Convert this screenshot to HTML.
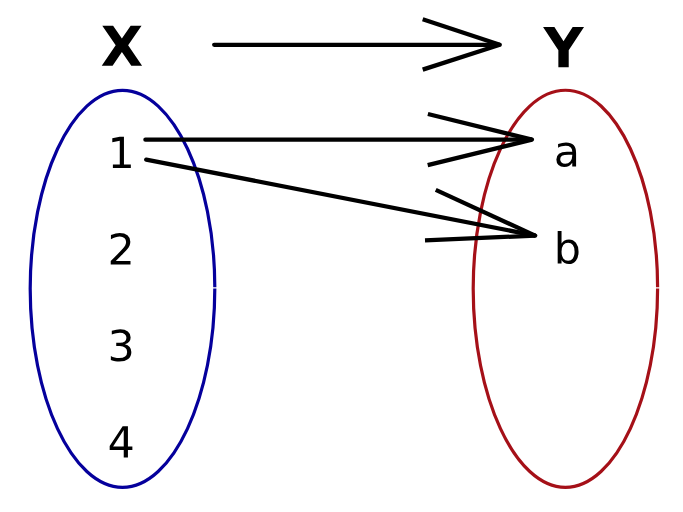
<!DOCTYPE html>
<html><head><meta charset="utf-8"><title>Function diagram</title>
<style>html,body{margin:0;padding:0;background:#fff;width:683px;height:512px;overflow:hidden;font-family:"Liberation Sans",sans-serif}svg{display:block}</style>
</head><body>
<svg width="683" height="512" viewBox="0 0 683 512">
<rect width="683" height="512" fill="#fff"/>
<path d="M214.80 288.40C214.80 396.98 172.80 487.30 122.50 487.30C72.20 487.30 30.20 396.98 30.20 288.80C30.20 180.62 72.20 90.30 122.50 90.30C172.80 90.30 214.80 180.62 214.80 287.20" fill="none" stroke="#05009c" stroke-width="3.2"/>
<path d="M657.60 288.40C657.60 397.01 615.65 487.35 565.40 487.35C515.15 487.35 473.20 397.01 473.20 288.80C473.20 180.59 515.15 90.25 565.40 90.25C615.65 90.25 657.60 180.59 657.60 287.20" fill="none" stroke="#a51018" stroke-width="3.2"/>
<g fill="none" stroke="#000" stroke-width="4.3" stroke-linejoin="bevel">
<path d="M214.2 44.8L499.8 44.8" stroke-linecap="round"/>
<path d="M422.7 19.2L499.8 44.8" stroke-linecap="butt"/>
<path d="M422.7 69.6L499.8 44.8" stroke-linecap="butt"/>
<path d="M145.4 139.7L532.0 139.6" stroke-linecap="round"/>
<path d="M427.9 114.0L532.0 139.6" stroke-linecap="butt"/>
<path d="M427.7 165.2L532.0 139.6" stroke-linecap="butt"/>
<path d="M146.2 159.6L535.2 235.6" stroke-linecap="round"/>
<path d="M435.75 189.9L535.2 235.6" stroke-linecap="butt"/>
<path d="M425.0 240.4L535.2 235.6" stroke-linecap="butt"/>
</g>
<g fill="#000">
<path transform="translate(107.60 168.00) scale(0.02085)" d="M254 -170H584V-1309L225 -1237V-1421L582 -1493H784V-170H1114V0H254Z"/>
<path transform="translate(107.60 264.60) scale(0.02085)" d="M393 -170H1098V0H150V-170Q265 -289 463.5 -489.5Q662 -690 713 -748Q810 -857 848.5 -932.5Q887 -1008 887 -1081Q887 -1200 803.5 -1275.0Q720 -1350 586 -1350Q491 -1350 385.5 -1317.0Q280 -1284 160 -1217V-1421Q282 -1470 388.0 -1495.0Q494 -1520 582 -1520Q814 -1520 952.0 -1404.0Q1090 -1288 1090 -1094Q1090 -1002 1055.5 -919.5Q1021 -837 930 -725Q905 -696 771.0 -557.5Q637 -419 393 -170Z"/>
<path transform="translate(107.60 361.00) scale(0.02085)" d="M831 -805Q976 -774 1057.5 -676.0Q1139 -578 1139 -434Q1139 -213 987.0 -92.0Q835 29 555 29Q461 29 361.5 10.5Q262 -8 156 -45V-240Q240 -191 340.0 -166.0Q440 -141 549 -141Q739 -141 838.5 -216.0Q938 -291 938 -434Q938 -566 845.5 -640.5Q753 -715 588 -715H414V-881H596Q745 -881 824.0 -940.5Q903 -1000 903 -1112Q903 -1227 821.5 -1288.5Q740 -1350 588 -1350Q505 -1350 410.0 -1332.0Q315 -1314 201 -1276V-1456Q316 -1488 416.5 -1504.0Q517 -1520 606 -1520Q836 -1520 970.0 -1415.5Q1104 -1311 1104 -1133Q1104 -1009 1033.0 -923.5Q962 -838 831 -805Z"/>
<path transform="translate(107.60 457.40) scale(0.02085)" d="M774 -1317 264 -520H774ZM721 -1493H975V-520H1188V-352H975V0H774V-352H100V-547Z"/>
<path transform="translate(553.80 166.40) scale(0.02085)" d="M702 -563Q479 -563 393.0 -512.0Q307 -461 307 -338Q307 -240 371.5 -182.5Q436 -125 547 -125Q700 -125 792.5 -233.5Q885 -342 885 -522V-563ZM1069 -639V0H885V-170Q822 -68 728.0 -19.5Q634 29 498 29Q326 29 224.5 -67.5Q123 -164 123 -326Q123 -515 249.5 -611.0Q376 -707 627 -707H885V-725Q885 -852 801.5 -921.5Q718 -991 567 -991Q471 -991 380.0 -968.0Q289 -945 205 -899V-1069Q306 -1108 401.0 -1127.5Q496 -1147 586 -1147Q829 -1147 949.0 -1021.0Q1069 -895 1069 -639Z"/>
<path transform="translate(553.80 263.40) scale(0.02085)" d="M997 -559Q997 -762 913.5 -877.5Q830 -993 684 -993Q538 -993 454.5 -877.5Q371 -762 371 -559Q371 -356 454.5 -240.5Q538 -125 684 -125Q830 -125 913.5 -240.5Q997 -356 997 -559ZM371 -950Q429 -1050 517.5 -1098.5Q606 -1147 729 -1147Q933 -1147 1060.5 -985.0Q1188 -823 1188 -559Q1188 -295 1060.5 -133.0Q933 29 729 29Q606 29 517.5 -19.5Q429 -68 371 -168V0H186V-1556H371Z"/>
<path transform="translate(100.70 65.80) scale(0.02690)" d="M1020 -762 1538 0H1137L788 -510L442 0H39L557 -762L59 -1493H461L788 -1012L1114 -1493H1518Z"/>
<path transform="translate(543.60 67.20) scale(0.02689)" d="M-20 -1493H401L741 -961L1081 -1493H1503L934 -629V0H549V-629Z"/>
</g>
</svg>
</body></html>
